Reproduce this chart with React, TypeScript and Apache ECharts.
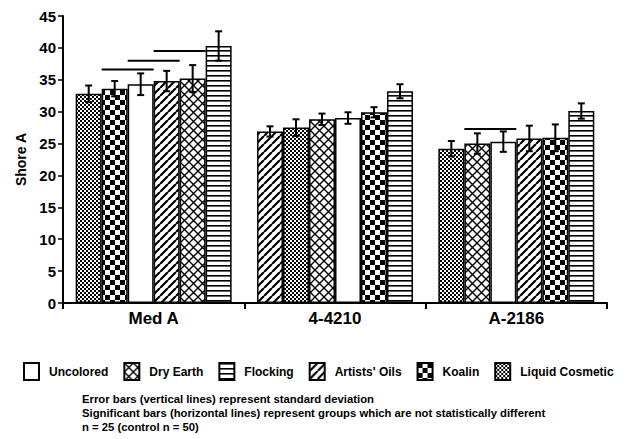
import React, { useEffect, useRef } from 'react';
import * as echarts from 'echarts';

// ---------- data ----------
const categories = ['Med A', '4-4210', 'A-2186'];
const materials = ['Uncolored', 'Dry Earth', 'Flocking', "Artists' Oils", 'Koalin', 'Liquid Cosmetic'];

// mean Shore A hardness per category (Med A, 4-4210, A-2186)
const uncoloredMean = [34.3, 29.0, 25.3];
const dryEarthMean = [35.2, 28.8, 25.0];
const flockingMean = [40.3, 33.2, 30.1];
const artistsOilsMean = [34.8, 26.9, 25.8];
const koalinMean = [33.6, 29.9, 25.9];
const liquidCosmeticMean = [32.8, 27.5, 24.2];

// standard deviations
const uncoloredSd = [1.7, 0.9, 1.6];
const dryEarthSd = [2.1, 0.9, 1.6];
const flockingSd = [2.3, 1.1, 1.2];
const artistsOilsSd = [1.6, 0.8, 2.0];
const koalinSd = [1.2, 0.8, 2.1];
const liquidCosmeticSd = [1.3, 1.3, 1.2];

// groups that are not statistically different (horizontal lines)
const sigCategory = ['Med A', 'Med A', 'Med A', 'A-2186'];
const sigFrom = ['Koalin', 'Uncolored', "Artists' Oils", 'Dry Earth'];
const sigTo = ['Uncolored', "Artists' Oils", 'Dry Earth', 'Uncolored'];
const sigLevel = [36.6, 38.0, 39.5, 27.3];

const yMin = 0;
const yMax = 45;
const yInterval = 5;

const footnotes = [
  'Error bars (vertical lines) represent standard deviation',
  'Significant bars (horizontal lines) represent groups which are not statistically different',
  'n = 25 (control n = 50)',
];

// ---------- styling ----------
const FONT = '"Liberation Sans", Arial, Helvetica, sans-serif';
const CAT_GAP = 0.14;

function makePattern(kind: string): any {
  if (kind === 'Uncolored') return '#ffffff';
  const c = document.createElement('canvas');
  let w = 8, h = 8;
  if (kind === 'Dry Earth') { w = 9; h = 9; }
  if (kind === 'Flocking') { w = 4; h = 5; }
  if (kind === "Artists' Oils") { w = 8; h = 8; }
  if (kind === 'Koalin') { w = 10; h = 10; }
  if (kind === 'Liquid Cosmetic') { w = 4; h = 4; }
  c.width = w; c.height = h;
  const g = c.getContext('2d')!;
  g.fillStyle = '#fff';
  g.fillRect(0, 0, w, h);
  g.fillStyle = '#000';
  g.strokeStyle = '#000';
  if (kind === 'Dry Earth') {
    g.lineWidth = 1.4;
    g.beginPath();
    g.moveTo(-1, -1); g.lineTo(w + 1, h + 1);
    g.moveTo(w + 1, -1); g.lineTo(-1, h + 1);
    g.stroke();
  } else if (kind === 'Flocking') {
    g.fillRect(0, 0, w, 1.6);
  } else if (kind === "Artists' Oils") {
    g.lineWidth = 2.2;
    g.beginPath();
    for (const k of [-w, 0, w]) {
      g.moveTo(k, h); g.lineTo(k + w, 0);
    }
    g.stroke();
  } else if (kind === 'Koalin') {
    g.fillRect(0, 0, 5, 5);
    g.fillRect(5, 5, 5, 5);
  } else if (kind === 'Liquid Cosmetic') {
    g.fillRect(0, 0, 2, 2);
    g.fillRect(2, 2, 2, 2);
  }
  return { image: c, repeat: 'repeat', imageWidth: w, imageHeight: h };
}

export default function App() {
  const ref = useRef<HTMLDivElement>(null);
  useEffect(() => {
    if (!ref.current) return;
    const chart = echarts.init(ref.current, undefined, { renderer: 'svg' });

    const means = [uncoloredMean, dryEarthMean, flockingMean, artistsOilsMean, koalinMean, liquidCosmeticMean];
    const sds = [uncoloredSd, dryEarthSd, flockingSd, artistsOilsSd, koalinSd, liquidCosmeticSd];
    const patterns = materials.map((m) => makePattern(m));

    // order of bars inside each category: ascending by mean
    const order = categories.map((_, c) =>
      materials.map((_, m) => m).sort((a, b) => means[a][c] - means[b][c])
    );
    const rankOf = (c: number, m: number) => order[c].indexOf(m);

    const barSeries = materials.map((_, r) => ({
      type: 'bar',
      name: 'rank' + r,
      barGap: '0%',
      barCategoryGap: (CAT_GAP * 100) + '%',
      itemStyle: { borderColor: '#000', borderWidth: 1.5 },
      emphasis: { disabled: true },
      data: categories.map((_, c) => {
        const m = order[c][r];
        return { value: means[m][c], itemStyle: { color: patterns[m], borderColor: '#000', borderWidth: 1.5 } };
      }),
      z: 2,
    }));

    const legendSeries = materials.map((name, m) => ({
      type: 'bar',
      name,
      xAxisIndex: 1,
      yAxisIndex: 1,
      itemStyle: { color: patterns[m], borderColor: '#000', borderWidth: 2 },
      data: [],
    }));

    const errData: number[][] = [];
    categories.forEach((_, c) => {
      materials.forEach((_, m) => {
        errData.push([c, rankOf(c, m), means[m][c] - sds[m][c], means[m][c] + sds[m][c]]);
      });
    });

    const sigData = sigCategory.map((cat, i) => {
      const c = categories.indexOf(cat);
      return [c, rankOf(c, materials.indexOf(sigFrom[i])), rankOf(c, materials.indexOf(sigTo[i])), sigLevel[i]];
    });

    const errorSeries = {
      type: 'custom',
      name: 'err',
      z: 5,
      silent: true,
      encode: { x: 0, y: [2, 3] },
      data: errData,
      renderItem: (params: any, api: any) => {
        const c = api.value(0);
        const r = api.value(1);
        const lo = api.coord([c, api.value(2)]);
        const hi = api.coord([c, api.value(3)]);
        const band = api.size([1, 0])[0];
        const bw = (band * (1 - CAT_GAP)) / 6;
        const x = lo[0] + (r - 2.5) * bw;
        const cap = 3.5;
        const st = { stroke: '#000', lineWidth: 2 };
        return {
          type: 'group',
          children: [
            { type: 'line', shape: { x1: x, y1: lo[1], x2: x, y2: hi[1] }, style: st },
            { type: 'line', shape: { x1: x - cap, y1: lo[1], x2: x + cap, y2: lo[1] }, style: st },
            { type: 'line', shape: { x1: x - cap, y1: hi[1], x2: x + cap, y2: hi[1] }, style: st },
          ],
        };
      },
    };

    const sigSeries = {
      type: 'custom',
      name: 'sig',
      z: 5,
      silent: true,
      encode: { x: 0, y: 3 },
      data: sigData,
      renderItem: (params: any, api: any) => {
        const c = api.value(0);
        const a = api.value(1);
        const b = api.value(2);
        const p = api.coord([c, api.value(3)]);
        const band = api.size([1, 0])[0];
        const bw = (band * (1 - CAT_GAP)) / 6;
        const x1 = p[0] + (a - 3) * bw;
        const x2 = p[0] + (b - 2) * bw;
        return {
          type: 'line',
          shape: { x1, y1: p[1], x2, y2: p[1] },
          style: { stroke: '#000', lineWidth: 2 },
        };
      },
    };

    chart.setOption({
      animation: false,
      backgroundColor: '#ffffff',
      textStyle: { fontFamily: FONT },
      grid: { left: 63, right: 20, top: 16, bottom: 136, containLabel: false },
      legend: {
        data: materials,
        left: 18,
        top: 357,
        icon: 'rect',
        itemWidth: 15,
        itemHeight: 17,
        itemGap: 15,
        selectedMode: false,
        itemStyle: { borderColor: '#000', borderWidth: 2 },
        textStyle: { fontFamily: FONT, fontWeight: 'bold', fontSize: 12, color: '#000', padding: [0, 0, 0, 5] },
      },
      xAxis: [
        {
          type: 'category',
          data: categories,
          boundaryGap: true,
          axisLine: { lineStyle: { color: '#000', width: 2 } },
          axisTick: { show: true, length: 6, lineStyle: { color: '#000', width: 2 } },
          axisLabel: { color: '#000', fontFamily: FONT, fontWeight: 'bold', fontSize: 17, margin: 7 },
        },
        { type: 'category', show: false, data: ['x'] },
      ],
      yAxis: [
        {
          type: 'value',
          min: yMin,
          max: yMax,
          interval: yInterval,
          name: 'Shore A',
          nameLocation: 'middle',
          nameGap: 31,
          nameTextStyle: { color: '#000', fontFamily: FONT, fontWeight: 'bold', fontSize: 14 },
          axisLine: { show: true, lineStyle: { color: '#000', width: 2 } },
          axisTick: { show: true, length: 5, lineStyle: { color: '#000', width: 1.5 } },
          splitLine: { show: false },
          axisLabel: { color: '#000', fontFamily: FONT, fontWeight: 'bold', fontSize: 15, margin: 7 },
        },
        { type: 'value', show: false },
      ],
      graphic: footnotes.map((t, i) => ({
        type: 'text',
        left: 82,
        top: 393 + i * 14,
        style: { text: t, fill: '#000', font: 'bold 11.3px ' + FONT },
      })),
      series: [...barSeries, ...legendSeries, errorSeries, sigSeries],
    });

    return () => chart.dispose();
  }, []);

  return (
    <div
      ref={ref}
      style={{ position: 'fixed', left: 0, top: 0, width: 627, height: 439, background: '#fff' }}
    />
  );
}
